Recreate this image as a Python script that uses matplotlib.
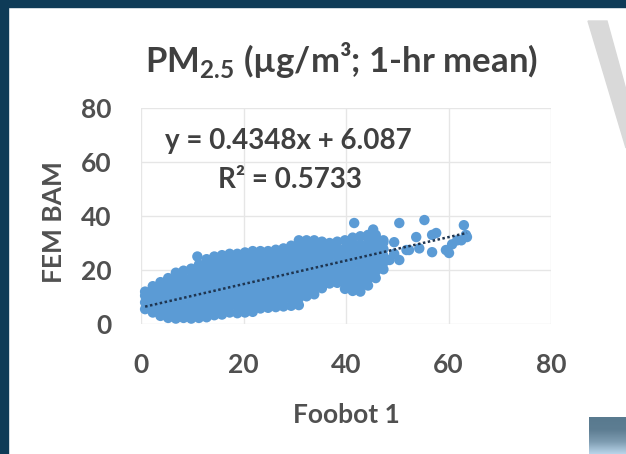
import numpy as np
import matplotlib.pyplot as plt
from matplotlib.patches import Rectangle, Polygon
from matplotlib.colors import LinearSegmentedColormap

plt.rcParams['font.family'] = ['Lato', 'DejaVu Sans']
plt.rcParams['mathtext.fontset'] = 'custom'
plt.rcParams['mathtext.rm'] = 'Lato:bold'

# dense part of the cloud, read column by column (Foobot 1 value -> FEM BAM values)
blob_x = [0.8, 2.3, 3.8, 5.3, 6.8, 8.3, 9.8, 11.3, 12.8, 14.3, 15.8, 17.3, 18.8,
          20.3, 21.8, 23.3, 24.8, 26.3, 27.8, 29.3, 30.8, 32.3, 33.8, 35.3,
          36.8, 38.3, 39.8, 41.3, 42.8, 44.3, 45.8, 47.3]
blob_y = [
    [5.5, 8, 10.5, 12],
    [4.25, 6.75, 9.25, 11.75, 14],
    [3, 5.5, 8, 10.5, 13, 15.5],
    [2.25, 4.75, 7.25, 9.75, 12.25, 14.75, 17],
    [2, 4.5, 7, 9.5, 12, 14.5, 17, 19],
    [2.25, 4.75, 7.25, 9.75, 12.25, 14.75, 17.25, 19.75],
    [2, 4.5, 7, 9.5, 12, 14.5, 17, 19.5, 20.5],
    [2.25, 4.75, 7.25, 9.75, 12.25, 14.75, 17.25, 19.75, 22],
    [2.5, 5, 7.5, 10, 12.5, 15, 17.5, 20, 22.5, 24],
    [3.25, 5.75, 8.25, 10.75, 13.25, 15.75, 18.25, 20.75, 23.25, 25],
    [3.5, 6, 8.5, 11, 13.5, 16, 18.5, 21, 23.5, 25.5],
    [4.25, 6.75, 9.25, 11.75, 14.25, 16.75, 19.25, 21.75, 24.25, 26],
    [4, 6.5, 9, 11.5, 14, 16.5, 19, 21.5, 24, 26],
    [4.25, 6.75, 9.25, 11.75, 14.25, 16.75, 19.25, 21.75, 24.25, 26.5],
    [4.5, 7, 9.5, 12, 14.5, 17, 19.5, 22, 24.5, 27],
    [5.75, 8.25, 10.75, 13.25, 15.75, 18.25, 20.75, 23.25, 25.75, 27],
    [6, 8.5, 11, 13.5, 16, 18.5, 21, 23.5, 26, 27],
    [6.25, 8.75, 11.25, 13.75, 16.25, 18.75, 21.25, 23.75, 26.25, 27.5],
    [6.5, 9, 11.5, 14, 16.5, 19, 21.5, 24, 26.5, 28],
    [6.75, 9.25, 11.75, 14.25, 16.75, 19.25, 21.75, 24.25, 26.75, 29],
    [7, 9.5, 12, 14.5, 17, 19.5, 22, 24.5, 27, 29.5, 31],
    [10.25, 12.75, 15.25, 17.75, 20.25, 22.75, 25.25, 27.75, 30.25, 31],
    [11, 13.5, 16, 18.5, 21, 23.5, 26, 28.5, 31],
    [13.25, 15.75, 18.25, 20.75, 23.25, 25.75, 28.25, 30.5],
    [15, 17.5, 20, 22.5, 25, 27.5, 30],
    [15.25, 17.75, 20.25, 22.75, 25.25, 27.75, 30.5],
    [13, 15.5, 18, 20.5, 23, 25.5, 28, 31],
    [12.25, 14.75, 17.25, 19.75, 22.25, 24.75, 27.25, 29.75, 32],
    [12, 14.5, 17, 19.5, 22, 24.5, 27, 29.5, 32.5],
    [14.25, 16.75, 19.25, 21.75, 24.25, 26.75, 29.25, 31.75, 33],
    [17, 19.5, 22, 24.5, 27, 29.5, 32, 33],
    [20.25, 22.75, 25.25, 27.75, 30.25, 31],
]

# loose points around / right of the cloud
spread_x = [11.0, 41.6, 45.3, 50.4, 55.3, 49.4, 49.4, 50.4, 48.5, 52.3, 51.8,
            53.7, 54.3, 56.8, 57.6, 56.8, 59.5, 60.1, 60.7, 61.7, 62.5, 63.0,
            63.6, 63.4]
spread_y = [25.0, 37.4, 35.0, 37.4, 38.5, 30.3, 26.0, 23.7, 23.7, 27.4, 27.4,
            32.2, 28.0, 33.0, 33.7, 26.6, 27.4, 26.3, 29.5, 31.0, 31.0, 36.6,
            32.2, 33.0]

slope = 0.4348
intercept = 6.087
r2 = 0.5733

ticks = [0, 20, 40, 60, 80]

foobot = []
bam = []
for cx, ys in zip(blob_x, blob_y):
    for yy in ys:
        foobot.append(cx)
        bam.append(yy)
foobot += spread_x
bam += spread_y
foobot = np.array(foobot)
bam = np.array(bam)

W, H = 626, 454
fig = plt.figure(figsize=(W / 100, H / 100), dpi=100)
fig.patch.set_facecolor('white')

# slide decoration around the chart
navy = '#0e3b57'
fig.patches.append(Rectangle((0, 0), 8 / W, 1, transform=fig.transFigure,
                             color=navy, zorder=0))
fig.patches.append(Rectangle((0, 1 - 7 / H), 1, 7 / H, transform=fig.transFigure,
                             color=navy, zorder=0))
wedge = [(588 / W, 1 - 21 / H), (607 / W, 1 - 21 / H), (1, 1 - 90 / H), (1, 1 - 148 / H)]
fig.patches.append(Polygon(wedge, closed=True, transform=fig.transFigure,
                           color='#d9d9d9', zorder=0))
box = fig.add_axes([589 / W, 0, 37 / W, 37 / H])
cm = LinearSegmentedColormap.from_list('g', ['#597a8f', '#5d7d92', '#7d9bb0', '#b7d3e8'])
box.imshow(np.linspace(0, 1, 40).reshape(-1, 1), aspect='auto', cmap=cm)
box.axis('off')

ax = fig.add_axes([141 / W, 1 - 324 / H, 410 / W, 216 / H])
ax.set_xlim(0, 80)
ax.set_ylim(0, 80)
ax.set_xticks(ticks)
ax.set_yticks(ticks)
ax.grid(True, color='#e6e6e6', lw=1)
ax.set_axisbelow(True)
for s in ax.spines.values():
    s.set_visible(False)
ax.tick_params(length=0, pad=21, labelsize=19, labelcolor='#505050')
for lab in ax.get_xticklabels() + ax.get_yticklabels():
    lab.set_fontweight('bold')

ax.scatter(foobot, bam, s=56, color='#5b9bd5', edgecolors='none', zorder=2,
           clip_on=False)
xl = np.array([foobot.min(), foobot.max()])
ax.plot(xl, slope * xl + intercept, color='#1f3550', lw=1.8,
        linestyle=(0, (1, 1)), zorder=3)

fig.text(341 / W, 1 - 72 / H, r'PM$_{\mathregular{2.5}}$ (µg/m³; 1-hr mean)',
         ha='center', va='baseline', fontsize=25, color='#404040', fontweight='bold')
fig.text(288 / W, 1 - 149 / H, 'y = %.4fx + %.3f' % (slope, intercept),
         ha='center', va='baseline', fontsize=20, color='#404040', fontweight='bold')
fig.text(290 / W, 1 - 188 / H, 'R² = %.4f' % r2,
         ha='center', va='baseline', fontsize=20, color='#404040', fontweight='bold')
fig.text(54 / W, 1 - 222 / H, 'FEM BAM', rotation=90, ha='center', va='center',
         fontsize=19, color='#505050', fontweight='bold')
fig.text(346 / W, 1 - 415 / H, 'Foobot 1', ha='center', va='center',
         fontsize=19, color='#505050', fontweight='bold')

fig.savefig('out.png', dpi=100)
